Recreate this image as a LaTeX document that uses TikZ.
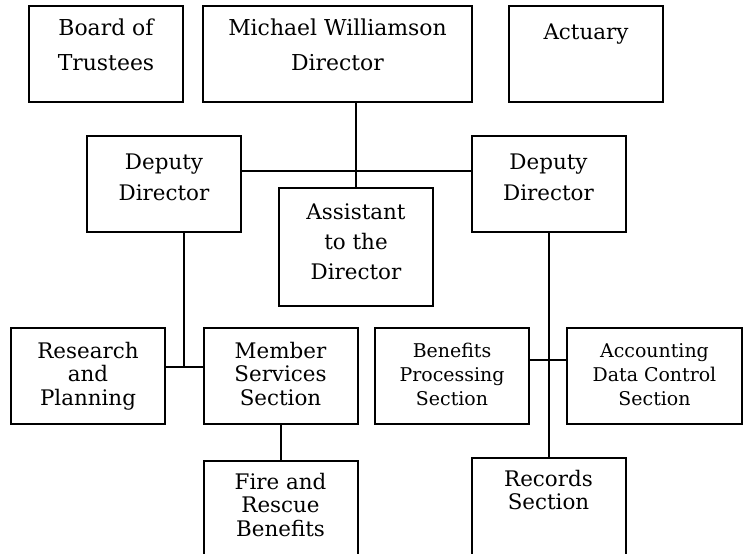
\documentclass[tikz,border=0pt]{standalone}
\usepackage{fontspec}
\setmainfont{DejaVu Serif}
\usetikzlibrary{calc}
\tikzset{
  box/.style={draw,line width=2bp,inner sep=0,minimum width=154bp,minimum height=96bp},
  lbl/.style={inner sep=0,align=center,font=\fontsize{21.5}{23.5}\selectfont},
  small/.style={font=\fontsize{19}{24}\selectfont},
  conn/.style={line width=2bp}
}
\begin{document}
\begin{tikzpicture}[x=1bp,y=-1bp]
\useasboundingbox (0,0) rectangle (746,554);
\clip (0,0) rectangle (746,554);
%top row
\node[box,label={[lbl,below=13.5bp,font=\fontsize{22}{35}\selectfont]north:{Board of\\Trustees}}] (board) at (106,54) {};
\node[box,minimum width=269bp,label={[lbl,below=13.5bp,font=\fontsize{22}{35}\selectfont]north:{Michael Williamson\\Director}}] (director) at (337.5,54) {};
\node[box,label={[lbl,below=18.5bp]north:Actuary}] (actuary) at (586,54) {};
%deputies
\node[box,label={[lbl,below=18.5bp,font=\fontsize{21.5}{31}\selectfont]north:{Deputy\\Director}}] (depL) at (164,184) {};
\node[box,label={[lbl,below=18.5bp,font=\fontsize{21.5}{31}\selectfont]north:{Deputy\\Director}}] (depR) at (548.5,184) {};
\node[box,minimum height=118bp,label={[lbl,below=16.5bp,font=\fontsize{21.5}{30}\selectfont]north:{Assistant\\to the\\Director}}] (asst) at (356,247) {};
%sections
\node[box,label={[lbl,below=15bp]north:{Research\\and\\Planning}}] (research) at (88,376) {};
\node[box,label={[lbl,below=15bp]north:{Member\\Services\\Section}}] (member) at (280.5,376) {};
\node[box,label={[lbl,small,below=16bp]north:{Benefits\\Processing\\Section}}] (benefits) at (452,376) {};
\node[box,minimum width=175bp,label={[lbl,small,below=16.5bp]north:{Accounting\\Data Control\\Section}}] (acct) at (654.5,376) {};
\node[box,minimum height=110bp,label={[lbl,below=13bp]north:{Fire and\\Rescue\\Benefits}}] (fire) at (280.5,516) {};
\node[box,minimum height=110bp,label={[lbl,below=13bp]north:{Records\\Section}}] (records) at (548.5,513) {};
%lines
\draw[conn] (asst.north |- director.south) -- (asst.north);
\draw[conn] ([yshift=13bp]depL.east) -- ([yshift=13bp]depR.west);
\coordinate (jl) at ($([yshift=9bp]research.east)!.5!([yshift=9bp]member.west)$);
\draw[conn] ([yshift=9bp]research.east) -- ([yshift=9bp]member.west);
\draw[conn] (jl |- depL.south) -- (jl);
\draw[conn] (member.south) -- (fire.north);
\draw[conn] (depR.south) -- (records.north);
\draw[conn] ([yshift=16bp]benefits.east) -- ([yshift=16bp]acct.west);
\end{tikzpicture}
\end{document}
